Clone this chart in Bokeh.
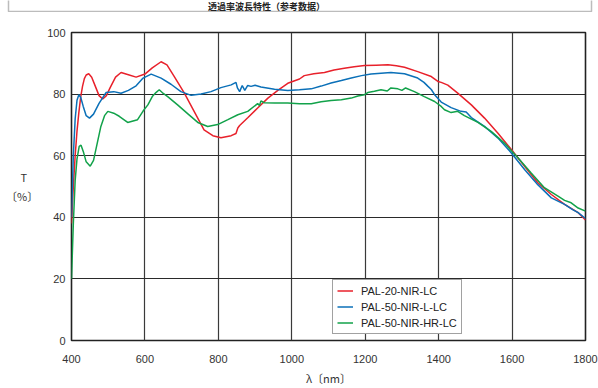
from bokeh.plotting import figure
from bokeh.layouts import column
from bokeh.models import Range1d, FixedTicker, Legend, LegendItem, BoxAnnotation
from bokeh.core.properties import value
from bokeh.embed import file_html
from bokeh.resources import INLINE

# ---- data ----
x_ticks = [400, 600, 800, 1000, 1200, 1400, 1600, 1800]
y_ticks = [0, 20, 40, 60, 80, 100]

series_names = ["PAL-20-NIR-LC", "PAL-50-NIR-L-LC", "PAL-50-NIR-HR-LC"]
header_text = "透過率波長特性（参考数据）"
x_title = "λ〔nm〕"
y_title = "T\u3000\n〔%〕"

red_wl = [400, 405, 410, 415, 420, 425, 430, 435, 440, 447, 455, 465, 475, 485, 495, 505, 520,
          535, 555, 576, 600, 620, 644, 660, 680, 707, 734, 761, 785, 807, 835, 848, 853, 858,
          880, 907, 935, 962, 989, 1021, 1034, 1060, 1089, 1115, 1143, 1170, 1198, 1230, 1262,
          1285, 1307, 1343, 1380, 1398, 1407, 1425, 1452, 1489, 1525, 1561, 1598, 1634, 1670,
          1707, 1743, 1780, 1800]
red_t = [38, 50, 60, 68, 74, 79, 82.5, 85, 86.2, 86.6, 85.5, 82.5, 79.5, 78.4, 79.5, 82, 85.5,
         87.0, 86.3, 85.5, 86.5, 88.5, 90.5, 89.5, 85.7, 80.4, 74.4, 68.4, 66.5, 65.8, 66.5, 67.2,
         69.0, 69.8, 72.3, 75.5, 78.7, 81.2, 83.5, 84.9, 86.0, 86.6, 87.0, 87.8, 88.4, 88.9, 89.3,
         89.4, 89.5, 89.2, 88.7, 87.3, 85.7, 84.1, 83.8, 82.9, 80.3, 76.5, 72.2, 67.4, 62.0, 56.6,
         51.2, 47.4, 44.2, 41.5, 39.1]

blue_wl = [400, 405, 410, 415, 420, 425, 432, 440, 449, 460, 475, 494, 515, 535, 555, 576, 595,
           617, 644, 671, 698, 726, 753, 780, 807, 835, 848, 852, 858, 865, 872, 880, 889, 900,
           916, 953, 989, 1021, 1053, 1080, 1107, 1135, 1162, 1190, 1216, 1243, 1270, 1307, 1343,
           1360, 1371, 1380, 1389, 1407, 1434, 1461, 1475, 1489, 1525, 1561, 1598, 1634, 1670,
           1707, 1743, 1765, 1780, 1800]
blue_t = [40, 60, 72, 78, 79.8, 79, 76, 73, 72.2, 73.5, 77, 80.5, 80.8, 80.3, 81.2, 82.7, 85.2,
          86.5, 85.2, 83.2, 80.8, 79.6, 80.0, 80.8, 82.1, 83.0, 83.8, 82.0, 80.8, 82.8, 81.2, 82.8,
          82.5, 82.9, 82.3, 81.6, 81.2, 81.4, 81.7, 82.6, 83.6, 84.4, 85.2, 86.0, 86.5, 86.8, 87.0,
          86.6, 85.2, 83.8, 82.5, 81.5, 79.8, 77.4, 75.6, 74.4, 74.2, 72.4, 69.5, 65.8, 60.9, 55.5,
          50.6, 46.3, 44.2, 42.5, 41.5, 39.6]

green_wl = [400, 405, 410, 415, 421, 426, 433, 440, 451, 460, 470, 480, 490, 499, 515, 530, 553,
            580, 595, 608, 620, 630, 639, 650, 662, 689, 717, 744, 771, 798, 826, 853, 880, 907,
            912, 916, 925, 953, 989, 1021, 1053, 1080, 1107, 1135, 1162, 1180, 1198, 1207, 1225,
            1243, 1260, 1270, 1289, 1300, 1310, 1334, 1361, 1389, 1407, 1416, 1434, 1452, 1470,
            1507, 1543, 1579, 1616, 1652, 1688, 1725, 1743, 1761, 1780, 1800]
green_t = [20, 38, 52, 59, 63.0, 63.4, 61, 58, 56.6, 58.5, 64, 69.5, 73, 74.4, 73.8, 72.8, 70.8,
           71.7, 74.5, 76.5, 79.2, 80.5, 81.4, 80.2, 79.2, 76.5, 73.6, 70.8, 69.5, 70.1, 71.7,
           73.3, 74.4, 76.9, 76.3, 77.8, 77.2, 77.1, 77.1, 76.9, 76.9, 77.5, 77.9, 78.2, 78.7,
           79.4, 79.8, 80.5, 80.9, 81.4, 81.0, 82.0, 81.7, 81.2, 82.0, 80.8, 79.2, 77.6, 76.0,
           74.9, 74.0, 74.4, 73.0, 70.8, 67.9, 64.1, 59.3, 54.4, 49.6, 46.9, 45.5, 44.7, 43.0, 42.0]

colors = ["#e8212b", "#0b70b8", "#12a24a"]

# ---- header strip (a thin figure whose coordinates are page pixels) ----
HDR_H = 12
h = figure(width=598, height=HDR_H, output_backend="svg", toolbar_location=None,
           x_range=Range1d(0, 598), y_range=Range1d(0, HDR_H),
           x_axis_location=None, y_axis_location=None,
           min_border_left=0, min_border_right=0, min_border_top=0, min_border_bottom=0)
h.frame_align = False
h.outline_line_color = None
h.xgrid.visible = False
h.ygrid.visible = False
h.background_fill_color = "white"
h.border_fill_color = "white"
h.add_layout(BoxAnnotation(left=8, right=591, bottom=1, top=HDR_H + 10, fill_alpha=0,
                           line_color="#222222", line_width=1.5))
h.text(x=[266], y=[6.5], text=[header_text], text_align="center", text_baseline="middle",
       text_font=value("Noto Sans CJK JP"), text_font_size="9px", text_font_style="bold",
       text_color="#222222")

# ---- main figure ----
p = figure(width=598, height=388 - HDR_H, output_backend="svg", toolbar_location=None,
           x_range=Range1d(400, 1800), y_range=Range1d(0, 100),
           min_border_left=71, min_border_right=13, min_border_top=32 - HDR_H,
           min_border_bottom=46)
p.frame_align = False
p.background_fill_color = "white"
p.border_fill_color = "white"
p.outline_line_color = "#222222"
p.outline_line_width = 1.6

for ax in (p.xaxis[0], p.yaxis[0]):
    ax.axis_line_color = None
    ax.major_tick_line_color = None
    ax.minor_tick_line_color = None
    ax.major_tick_out = 0
    ax.major_tick_in = 0
    ax.major_label_text_font = "Liberation Sans"
    ax.major_label_text_font_size = "11px"
    ax.major_label_text_color = "#333333"
    ax.axis_label_text_font = "Noto Sans CJK JP"
    ax.axis_label_text_font_size = "11px"
    ax.axis_label_text_font_style = "normal"
    ax.axis_label_text_color = "#333333"

p.xaxis[0].ticker = FixedTicker(ticks=x_ticks)
p.yaxis[0].ticker = FixedTicker(ticks=y_ticks)
p.xaxis[0].major_label_standoff = 14
p.yaxis[0].major_label_standoff = 6
p.xaxis[0].axis_label = x_title
p.xaxis[0].axis_label_standoff = 4
p.yaxis[0].axis_label = y_title
p.yaxis[0].axis_label_orientation = "horizontal"
p.yaxis[0].axis_label_standoff = 6

p.xgrid.ticker = FixedTicker(ticks=x_ticks[1:-1])
p.ygrid.ticker = FixedTicker(ticks=y_ticks[1:-1])
p.xgrid.grid_line_color = "#3a3a3a"
p.ygrid.grid_line_color = "#2a2a2a"
p.xgrid.grid_line_width = 1.2
p.ygrid.grid_line_width = 1.2

r1 = p.line(red_wl, red_t, line_color=colors[0], line_width=1.5)
r2 = p.line(blue_wl, blue_t, line_color=colors[1], line_width=1.5)
r3 = p.line(green_wl, green_t, line_color=colors[2], line_width=1.5)

legend = Legend(items=[LegendItem(label=series_names[0], renderers=[r1]),
                       LegendItem(label=series_names[1], renderers=[r2]),
                       LegendItem(label=series_names[2], renderers=[r3])],
                location=(261, 6))
legend.label_text_font = "Liberation Sans"
legend.label_text_font_size = "11px"
legend.label_text_color = "#222222"
legend.label_height = 13
legend.glyph_height = 13
legend.glyph_width = 16
legend.label_standoff = 8
legend.spacing = 3
legend.padding = 4
legend.margin = 0
legend.border_line_color = "#444444"
legend.border_line_width = 1
legend.background_fill_color = "white"
legend.background_fill_alpha = 1
p.add_layout(legend, "center")

layout = column(h, p, spacing=0)
open("out.html", "w").write(file_html(layout, INLINE))
